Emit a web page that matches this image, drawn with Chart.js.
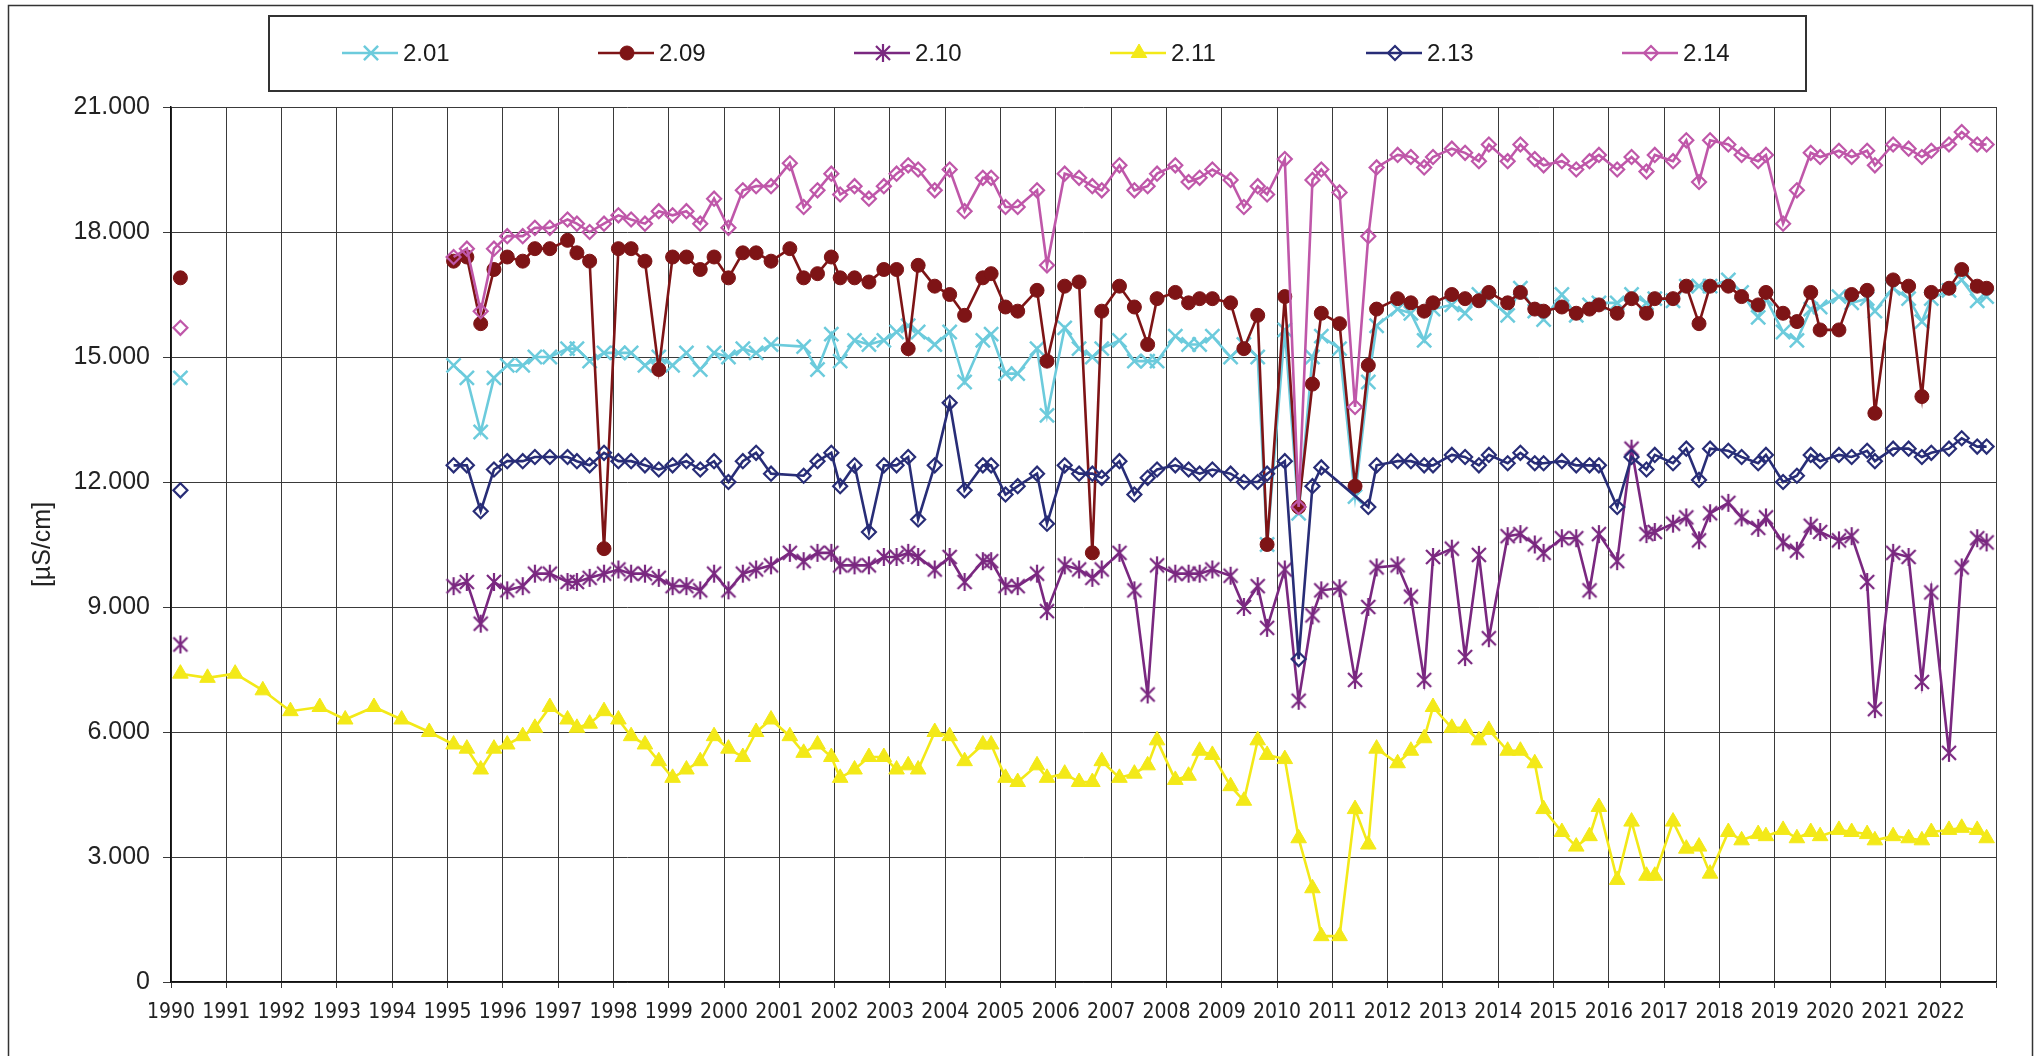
<!DOCTYPE html>
<html>
<head>
<meta charset="utf-8">
<script src="https://cdn.jsdelivr.net/npm/chart.js@4.4.1/dist/chart.umd.min.js"></script>
<style>
  html, body { margin: 0; padding: 0; background: #fff; }
  #wrap { width: 2040px; height: 1056px; }
</style>
</head>
<body>
<div id="wrap"><canvas id="chart" width="2040" height="1056"></canvas></div>
<script>
// sampling dates, decimal years (about four campaigns a year from 1995)
const firstDate = 1990.17;
const earlyDates = [1990.17, 1990.66, 1991.16, 1991.66, 1992.16, 1992.69, 1993.15, 1993.67, 1994.17, 1994.67];
const sampleDates = [
  1995.11, 1995.35, 1995.60, 1995.84, 1996.08, 1996.36, 1996.58, 1996.85,
  1997.17, 1997.34, 1997.57, 1997.83, 1998.09, 1998.32, 1998.57, 1998.82,
  1999.07, 1999.32, 1999.57, 1999.82, 2000.08, 2000.34, 2000.58, 2000.85,
  2001.19, 2001.44, 2001.69, 2001.94, 2002.10, 2002.36, 2002.62, 2002.89,
  2003.12, 2003.33, 2003.51, 2003.81, 2004.08, 2004.35, 2004.68, 2004.83,
  2005.09, 2005.31, 2005.66, 2005.84, 2006.16, 2006.42, 2006.66, 2006.83,
  2007.15, 2007.42, 2007.66, 2007.83, 2008.16, 2008.40, 2008.60, 2008.83,
  2009.16, 2009.40, 2009.65, 2009.82, 2010.14, 2010.39, 2010.64, 2010.80,
  2011.13, 2011.41, 2011.65, 2011.80, 2012.18, 2012.42, 2012.66, 2012.82,
  2013.16, 2013.40, 2013.65, 2013.83, 2014.17, 2014.40, 2014.66, 2014.82,
  2015.15, 2015.41, 2015.65, 2015.82, 2016.15, 2016.41, 2016.68, 2016.83,
  2017.16, 2017.40, 2017.63, 2017.83, 2018.16, 2018.40, 2018.70, 2018.84,
  2019.15, 2019.40, 2019.65, 2019.82, 2020.16, 2020.39, 2020.67, 2020.81,
  2021.14, 2021.42, 2021.66, 2021.83, 2022.15, 2022.38, 2022.66, 2022.83
];

// [µS/cm] values, first 1990 value kept apart
const first201 = 14500;
const s201 = [
  14800, 14500, 13200, 14500, 14800, 14800, 15000, 15000,
  15200, 15200, 14900, 15100, 15100, 15100, 14800, 15000,
  14800, 15100, 14700, 15100, 15000, 15200, 15100, 15300,
  null, 15250, 14700, 15550, 14900, 15400, 15300, 15400,
  15600, 15750, 15600, 15300, 15600, 14400, 15400, 15550,
  14600, 14600, 15200, 13600, 15700, 15200, 15000, 15200,
  15400, 14900, 14900, 14900, 15500, 15300, 15300, 15500,
  15000, 15300, 15000, 10500, 15650, 11250, 15000, 15500,
  15200, 11650, 14400, 15750, 16150, 16050, 15400, 16150,
  16250, 16050, 16500, 16400, 16000, 16650, 16100, 15900,
  16500, 16000, 16250, 16300, 16300, 16500, 16300, 16400,
  16350, 16700, 16700, 16700, 16850, 16550, 15950, 16400,
  15600, 15400, 16150, 16200, 16450, 16300, 16400, 16100,
  16650, 16400, 15850, 16400, 16600, 16850, 16350, 16450
];
const first209 = 16900;
const s209 = [
  17300, 17400, 15800, 17100, 17400, 17300, 17600, 17600,
  17800, 17500, 17300, 10400, 17600, 17600, 17300, 14700,
  17400, 17400, 17100, 17400, 16900, 17500, 17500, 17300,
  17600, 16900, 17000, 17400, 16900, 16900, 16800, 17100,
  17100, 15200, 17200, 16700, 16500, 16000, 16900, 17000,
  16200, 16100, 16600, 14900, 16700, 16800, 10300, 16100,
  16700, 16200, 15300, 16400, 16550, 16300, 16400, 16400,
  16300, 15200, 16000, 10500, 16450, 11400, 14350, 16050,
  15800, 11900, 14800, 16150, 16400, 16300, 16100, 16300,
  16500, 16400, 16350, 16550, 16300, 16550, 16150, 16100,
  16200, 16050, 16150, 16250, 16050, 16400, 16050, 16400,
  16400, 16700, 15800, 16700, 16700, 16450, 16250, 16550,
  16050, 15850, 16550, 15650, 15650, 16500, 16600, 13650,
  16850, 16700, 14050, 16550, 16650, 17100, 16700, 16650
];
const first210 = 8100;
const s210 = [
  9500, 9600, 8600, 9600, 9400, 9500, 9800, 9800,
  9600, 9600, 9700, 9800, 9900, 9800, 9800, 9700,
  9500, 9500, 9400, 9800, 9400, 9800, 9900, 10000,
  10300, 10100, 10300, 10300, 10000, 10000, 10000, 10200,
  10200, 10300, 10200, 9900, 10200, 9600, 10100, 10100,
  9500, 9500, 9800, 8900, 10000, 9900, 9700, 9900,
  10300, 9400, 6900, 10000, 9800, 9800, 9800, 9900,
  9750, 9000, 9500, 8500, 9900, 6750, 8800, 9400,
  9450, 7250, 9000, 9950, 10000, 9250, 7250, 10200,
  10400, 7800, 10250, 8250, 10700, 10750, 10500, 10300,
  10650, 10650, 9400, 10750, 10100, 12800, 10750, 10800,
  11000, 11150, 10600, 11250, 11500, 11150, 10900, 11150,
  10550, 10350, 10950, 10800, 10600, 10700, 9600, 6550,
  10300, 10200, 7200, 9350, 5500, 9950, 10650, 10550
];
const early211 = [7400, 7300, 7400, 7000, 6500, 6600, 6300, 6600, 6300, 6000];
const s211 = [
  5700, 5600, 5100, 5600, 5700, 5900, 6100, 6600,
  6300, 6100, 6200, 6500, 6300, 5900, 5700, 5300,
  4900, 5100, 5300, 5900, 5600, 5400, 6000, 6300,
  5900, 5500, 5700, 5400, 4900, 5100, 5400, 5400,
  5100, 5200, 5100, 6000, 5900, 5300, 5700, 5700,
  4900, 4800, 5200, 4900, 5000, 4800, 4800, 5300,
  4900, 5000, 5200, 5800, 4850, 4950, 5550, 5450,
  4700, 4350, 5800, 5450, 5350, 3450, 2250, 1100,
  1100, 4150, 3300, 5600, 5250, 5550, 5850, 6600,
  6100, 6100, 5800, 6050, 5550, 5550, 5250, 4150,
  3600, 3250, 3500, 4200, 2450, 3850, 2550, 2550,
  3850, 3200, 3250, 2600, 3600, 3400, 3550, 3500,
  3650, 3450, 3600, 3500, 3650, 3600, 3550, 3400,
  3500, 3450, 3400, 3600, 3650, 3700, 3650, 3450
];
const first213 = 11800;
const s213 = [
  12400, 12400, 11300, 12300, 12500, 12500, 12600, 12600,
  12600, 12500, 12400, 12700, 12500, 12500, 12400, 12300,
  12400, 12500, 12300, 12500, 12000, 12500, 12700, 12200,
  null, 12150, 12500, 12700, 11900, 12400, 10800, 12400,
  12400, 12600, 11100, 12400, 13900, 11800, 12400, 12400,
  11700, 11900, 12200, 11000, 12400, 12200, 12200, 12100,
  12500, 11700, 12100, 12300, 12400, 12300, 12200, 12300,
  12200, 12000, 12000, 12200, 12500, 7750, 11900, 12350,
  null, null, 11400, 12400, 12500, 12500, 12400, 12400,
  12650, 12600, 12400, 12650, 12450, 12700, 12450, 12450,
  12500, 12400, 12400, 12400, 11400, 12600, 12300, 12650,
  12450, 12800, 12050, 12800, 12750, 12600, 12450, 12650,
  12000, 12150, 12650, 12500, 12650, 12600, 12750, 12500,
  12800, 12800, 12600, 12700, 12800, 13050, 12850, 12850
];
const first214 = 15700;
const s214 = [
  17400, 17600, 16100, 17600, 17900, 17900, 18100, 18100,
  18300, 18200, 18000, 18200, 18400, 18300, 18200, 18500,
  18400, 18500, 18200, 18800, 18100, 19000, 19100, 19100,
  19650, 18600, 19000, 19400, 18900, 19100, 18800, 19100,
  19400, 19600, 19500, 19000, 19500, 18500, 19300, 19300,
  18600, 18600, 19000, 17200, 19400, 19300, 19100, 19000,
  19600, 19000, 19100, 19400, 19600, 19200, 19300, 19500,
  19250, 18600, 19100, 18900, 19750, 11400, 19250, 19500,
  18950, 13800, 17900, 19550, 19850, 19800, 19550, 19800,
  20000, 19900, 19700, 20100, 19700, 20100, 19750, 19600,
  19700, 19500, 19700, 19850, 19500, 19800, 19450, 19850,
  19700, 20200, 19200, 20200, 20100, 19850, 19700, 19850,
  18200, 19000, 19900, 19800, 19950, 19800, 19950, 19600,
  20100, 20000, 19800, 19950, 20100, 20400, 20100, 20100
];

const seriesNames = ["2.01", "2.09", "2.10", "2.11", "2.13", "2.14"];
const seriesColors = ["#6ccbdc", "#7e1416", "#7a2880", "#f3e918", "#282d77", "#bf57a9"];

function points(firstVal, vals)
{
	let out = [];
	if(firstVal !== null)
		out.push({x : firstDate, y : firstVal});
	for(let i = 0; i < sampleDates.length; i++)
		if(vals[i] !== null)
			out.push({x : sampleDates[i], y : vals[i]});
	return out;
}

function yellowPoints()
{
	let out = [];
	for(let i = 0; i < earlyDates.length; i++)
		out.push({x : earlyDates[i], y : early211[i]});
	return out.concat(points(null, s211));
}

// asterisk marker for 2.10 (x with a vertical bar)
function asterisk(color)
{
	let c = document.createElement("canvas");
	c.width = 22;
	c.height = 22;
	let g = c.getContext("2d");
	g.strokeStyle = color;
	g.lineWidth = 2.2;
	g.lineCap = "butt";
	g.beginPath();
	g.moveTo(11 - 7, 11 - 7); g.lineTo(11 + 7, 11 + 7);
	g.moveTo(11 + 7, 11 - 7); g.lineTo(11 - 7, 11 + 7);
	g.moveTo(11, 11 - 9); g.lineTo(11, 11 + 9);
	g.stroke();
	return c;
}
const starMark = asterisk(seriesColors[2]);

function dataset(i, data, style, radius, fill, bw, order)
{
	return {
		label : seriesNames[i],
		data : data,
		borderColor : seriesColors[i],
		backgroundColor : seriesColors[i],
		borderWidth : 2.6,
		pointStyle : style,
		pointRadius : radius,
		pointHoverRadius : radius,
		pointBackgroundColor : fill,
		pointBorderColor : seriesColors[i],
		pointBorderWidth : bw,
		spanGaps : 1,
		tension : 0,
		fill : false,
		order : order
	};
}

const datasets = [
	dataset(0, points(first201, s201), "crossRot", 10, "transparent", 2.5, 5),
	dataset(1, points(first209, s209), "circle", 7, seriesColors[1], 1, 4),
	dataset(2, points(first210, s210), starMark, 9, seriesColors[2], 1, 3),
	dataset(3, yellowPoints(), "triangle", 9, seriesColors[3], 1, 2),
	dataset(4, points(first213, s213), "rectRot", 7, "transparent", 2.2, 1),
	dataset(5, points(first214, s214), "rectRot", 7, "transparent", 2.2, 0)
];

const framePlugin = {
	id : "frame",
	beforeDraw(chart)
	{
		const ctx = chart.ctx;
		ctx.save();
		ctx.fillStyle = "#ffffff";
		ctx.fillRect(0, 0, chart.width, chart.height);
		ctx.strokeStyle = "#333333";
		ctx.lineWidth = 1.5;
		ctx.strokeRect(8.5, 5.5, 2024, 1070);
		ctx.restore();
	}
};

const legendPlugin = {
	id : "legendBox",
	afterDraw(chart)
	{
		const ctx = chart.ctx;
		ctx.save();
		ctx.strokeStyle = "#333333";
		ctx.lineWidth = 2;
		ctx.strokeRect(269, 16, 1537, 75);
		const y = 53;
		for(let i = 0; i < datasets.length; i++)
		{
			const ds = datasets[i];
			const cx = 371 + i * 256;
			ctx.strokeStyle = ds.borderColor;
			ctx.lineWidth = ds.borderWidth;
			ctx.beginPath();
			ctx.moveTo(cx - 29, y);
			ctx.lineTo(cx + 27, y);
			ctx.stroke();
			ctx.fillStyle = ds.pointBackgroundColor;
			ctx.strokeStyle = ds.pointBorderColor;
			ctx.lineWidth = ds.pointBorderWidth;
			if(Chart.helpers && Chart.helpers.drawPoint)
				Chart.helpers.drawPoint(ctx, {pointStyle : ds.pointStyle, rotation : 0, radius : ds.pointRadius, borderWidth : ds.pointBorderWidth}, cx, y);
			ctx.fillStyle = "#1a1a1a";
			ctx.font = "24px 'Liberation Sans', Arial, sans-serif";
			ctx.textBaseline = "middle";
			ctx.textAlign = "left";
			ctx.fillText(ds.label, cx + 32, y + 1);
		}
		ctx.restore();
	}
};

new Chart(document.getElementById("chart").getContext("2d"),
{
	type : "line",
	data : { datasets : datasets },
	plugins : [framePlugin, legendPlugin],
	options :
	{
		responsive : false,
		animation : false,
		events : [],
		layout : { padding : { top : 107, right : 44, bottom : 0, left : 0 } },
		plugins :
		{
			legend : { display : false },
			tooltip : { enabled : false }
		},
		scales :
		{
			x :
			{
				type : "linear",
				min : 1990,
				max : 2023,
				afterFit : (scale) => { scale.height = 74; },
				grid : { color : "#3a3a3a", lineWidth : 1, tickLength : 6, drawTicks : true },
				border : { display : true, color : "#111111", width : 1.5 },
				ticks :
				{
					stepSize : 1,
					autoSkip : false,
					maxRotation : 0,
					padding : 12,
					color : "#222222",
					font : { family : "'Liberation Sans Narrow', 'DejaVu Sans Condensed', 'Liberation Sans', sans-serif", size : 21 },
					callback : (v) => (v >= 2023 ? "" : String(v))
				}
			},
			y :
			{
				min : 0,
				max : 21000,
				afterFit : (scale) => { scale.width = 171; },
				grid : { color : "#3a3a3a", lineWidth : 1, tickLength : 8, drawTicks : true },
				border : { display : true, color : "#111111", width : 1.5 },
				ticks :
				{
					stepSize : 3000,
					padding : 13,
					color : "#222222",
					font : { family : "'Liberation Sans', Arial, sans-serif", size : 25 },
					callback : (v) => (v === 0 ? "0" : (v / 1000) + ".000")
				},
				title :
				{
					display : true,
					text : "[µS/cm]",
					color : "#222222",
					font : { family : "'Liberation Sans', Arial, sans-serif", size : 25 },
					padding : { top : 28, bottom : 0 }
				}
			}
		}
	}
});
</script>
</body>
</html>
